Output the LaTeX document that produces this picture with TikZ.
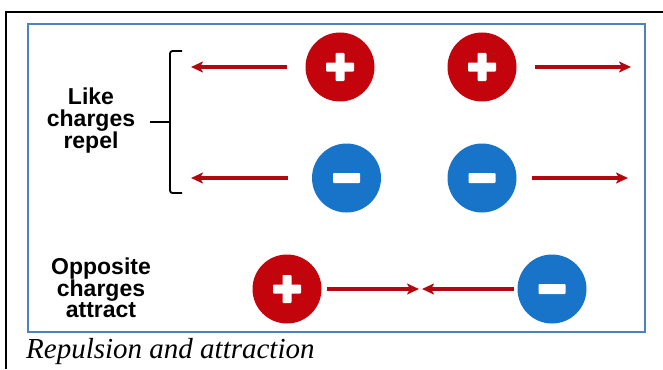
\documentclass[tikz,border=0pt]{standalone}
\usepackage{fontspec}
\setmainfont{Liberation Serif}
\setsansfont{Liberation Sans}
\usetikzlibrary{arrows.meta}
\definecolor{chargered}{RGB}{196,4,12}
\definecolor{chargeblue}{RGB}{24,116,200}
\definecolor{arrowred}{RGB}{180,8,16}
\definecolor{framblue}{RGB}{79,129,189}
\tikzset{
  poscharge/.style={circle,fill=chargered,minimum size=69pt,inner sep=0pt},
  negcharge/.style={circle,fill=chargeblue,minimum size=69pt,inner sep=0pt},
  force/.style={draw=arrowred,line width=3.5pt,-{Stealth[length=12pt,width=11pt,inset=3pt]}},
  lbl/.style={align=center,inner sep=0pt,font=\sffamily\bfseries\fontsize{23}{21.5}\selectfont},
  plusbar/.style={fill=white,rounded corners=0.8pt},
}
\newcommand{\plussign}[1]{%
  \fill[plusbar] ([xshift=-14pt,yshift=-4.5pt]#1.center) rectangle ([xshift=14pt,yshift=4.5pt]#1.center);
  \fill[plusbar] ([xshift=-4.5pt,yshift=-14pt]#1.center) rectangle ([xshift=4.5pt,yshift=14pt]#1.center);}
\newcommand{\minussign}[1]{%
  \fill[plusbar] ([xshift=-13.5pt,yshift=-5pt]#1.center) rectangle ([xshift=13.5pt,yshift=5pt]#1.center);}
\begin{document}
\begin{tikzpicture}[x=1pt,y=-1pt]
\useasboundingbox (0,0) rectangle (663,369);
\fill[white] (0,0) rectangle (663,369);
% outer frame
\draw[line width=1.5pt] (6,369) -- (6,12) -- (663,12);
% blue frame
\draw[framblue,line width=2pt] (28,24) rectangle (645,332);
% charges
\node[poscharge] (p1) at (340,67) {};
\node[poscharge] (p2) at (482,67) {};
\node[negcharge] (m1) at (346.5,178) {};
\node[negcharge] (m2) at (482,178) {};
\node[poscharge] (p3) at (287,289) {};
\node[negcharge] (m3) at (552,289) {};
\plussign{p1}\plussign{p2}\plussign{p3}
\minussign{m1}\minussign{m2}\minussign{m3}
% arrow tips
\coordinate (t1) at (191,67);
\coordinate (t2) at (631,67);
\coordinate (t3) at (191,178);
\coordinate (t4) at (628,178);
\coordinate (t5) at (419,289);
\coordinate (t6) at (422,289);
\draw[force,shorten <=18pt] (p1.west) -- (t1);
\draw[force,shorten <=18.5pt] (p2.east) -- (t2);
\draw[force,shorten <=24pt] (m1.west) -- (t3);
\draw[force,shorten <=15.5pt] (m2.east) -- (t4);
\draw[force,shorten <=5pt] (p3.east) -- (t5);
\draw[force,shorten <=3.5pt] (m3.west) -- (t6);
% labels
\node[lbl] (like) at (91,121) {Like\\charges\\repel};
\node[lbl] (opp) at (101,288) {Opposite\\charges\\attract};
% bracket
\coordinate (bt) at (182,51);
\coordinate (bb) at (182,193);
\coordinate (bm) at (170,122);
\draw[line width=1.8pt,rounded corners=2.5pt] (bt) -- (170,51) -- (170,193) -- (bb);
\draw[line width=1.8pt] (bm) -- ++(-20,0);
% caption
\node[anchor=base west,inner sep=0pt,font=\itshape\fontsize{29}{32}\selectfont] (cap) at (26,358) {Repulsion and attraction};
\end{tikzpicture}
\end{document}
